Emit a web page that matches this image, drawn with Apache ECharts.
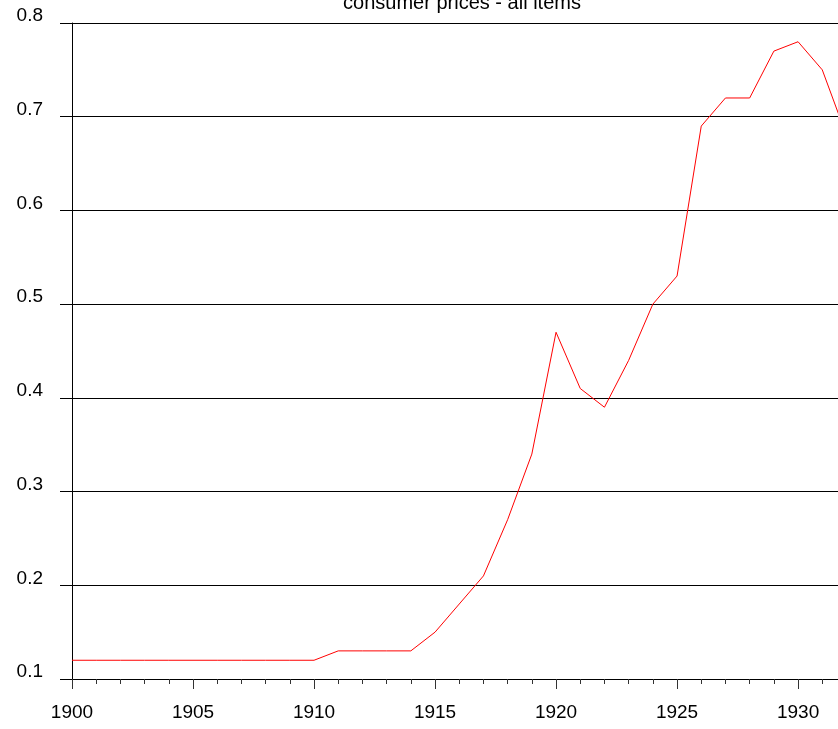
<!DOCTYPE html>
<html>
<head>
<meta charset="utf-8">
<script src="https://cdn.jsdelivr.net/npm/echarts@6/dist/echarts.min.js"></script>
<style>html,body{margin:0;padding:0;background:#fff}#c{width:838px;height:729px}</style>
</head>
<body>
<div id="c"></div>
<script>
const titleText = 'consumer prices - all items';
const years = [1900,1901,1902,1903,1904,1905,1906,1907,1908,1909,1910,1911,1912,1913,1914,1915,1916,1917,1918,1919,1920,1921,1922,1923,1924,1925,1926,1927,1928,1929,1930,1931,1932];
const prices = [0.12,0.12,0.12,0.12,0.12,0.12,0.12,0.12,0.12,0.12,0.12,0.13,0.13,0.13,0.13,0.15,0.18,0.21,0.27,0.34,0.47,0.41,0.39,0.44,0.50,0.53,0.69,0.72,0.72,0.77,0.78,0.75,0.68];
const xMin = 1900, xMax = 1931.65;
const yMin = 0.1, yMax = 0.8;

const font = 'Liberation Sans, Arial, sans-serif';
const chart = echarts.init(document.getElementById('c'), null, {renderer:'canvas'});
chart.setOption({
  animation:false,
  backgroundColor:'#fff',
  title:{text:titleText,left:457,textAlign:'center',top:-12,textStyle:{fontFamily:font,fontSize:20,fontWeight:'normal',color:'#000'}},
  grid:{left:72,right:0,top:23,bottom:50,containLabel:false},
  xAxis:[{
    type:'value',min:xMin,max:xMax,interval:1,
    axisLine:{show:true,lineStyle:{color:'#000',width:1}},
    axisTick:{show:true,length:5,lineStyle:{color:'#333'}},
    axisLabel:{show:true,margin:24,fontFamily:font,fontSize:19,color:'#000',
      formatter:v=>(Math.round(v)%5===0?String(Math.round(v)):''),showMaxLabel:false},
    splitLine:{show:false}
  },{
    type:'value',min:xMin,max:xMax,interval:5,position:'bottom',
    axisLine:{show:false},
    axisTick:{show:true,length:10,lineStyle:{color:'#333'}},
    axisLabel:{show:false},
    splitLine:{show:false}
  }],
  yAxis:{
    type:'value',min:yMin,max:yMax,interval:0.1,
    axisLine:{show:true,lineStyle:{color:'#000',width:1}},
    axisTick:{show:true,length:12,lineStyle:{color:'#000'}},
    axisLabel:{margin:29,fontFamily:font,fontSize:19,color:'#000',verticalAlign:'bottom',lineHeight:14,formatter:v=>v.toFixed(1)},
    splitLine:{show:true,lineStyle:{color:'#000',width:1}}
  },
  series:[{
    type:'line',xAxisIndex:0,
    data:years.map((y,i)=>[y,prices[i]]),
    showSymbol:false,symbol:'none',clip:true,
    lineStyle:{color:'#ff0000',width:1}
  }]
});
</script>
</body>
</html>
